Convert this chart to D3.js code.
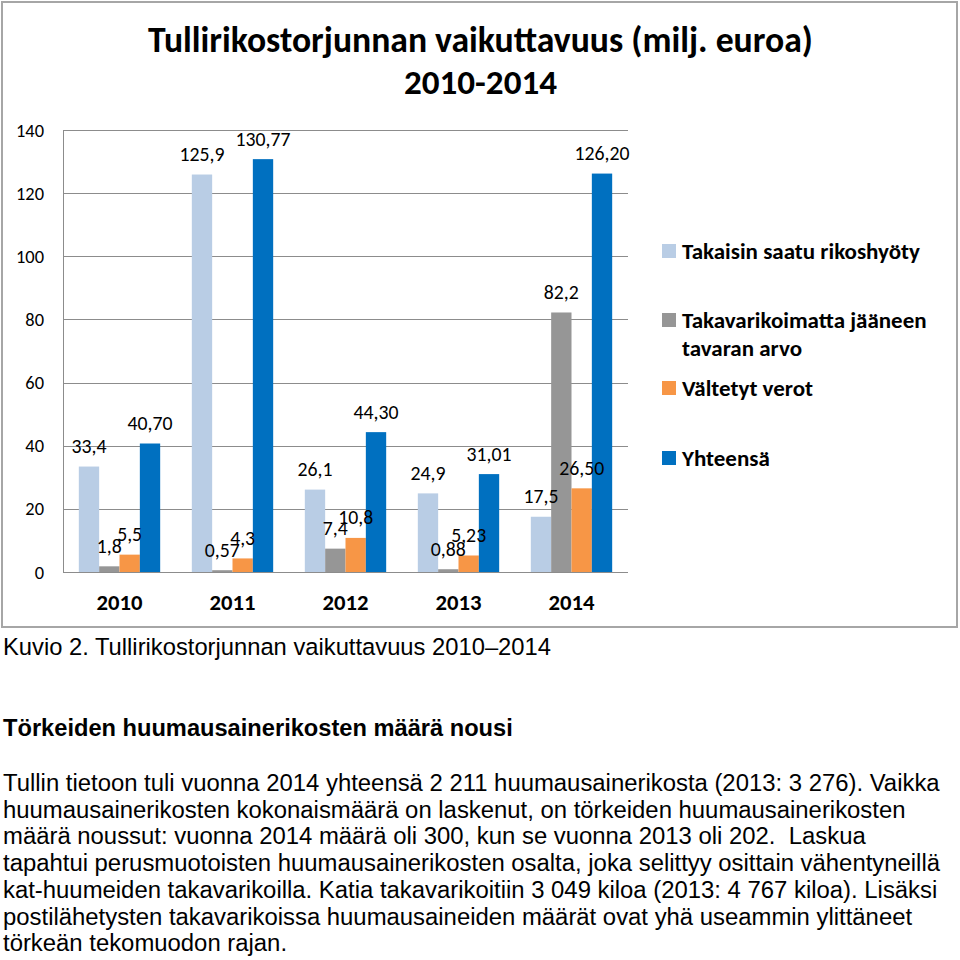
<!DOCTYPE html>
<html><head><meta charset="utf-8">
<script src="https://cdn.jsdelivr.net/npm/d3@7"></script>
<style>
html,body{margin:0;padding:0;background:#fff;}
svg{display:block;}
</style></head>
<body>
<script>
const years = ["2010","2011","2012","2013","2014"];
const seriesNames = ["Takaisin saatu rikoshyöty","Takavarikoimatta jääneen tavaran arvo","Vältetyt verot","Yhteensä"];
const takaisin = [33.4, 125.9, 26.1, 24.9, 17.5];
const takavarikoimatta = [1.8, 0.57, 7.4, 0.88, 82.2];
const vältetyt = [5.5, 4.3, 10.8, 5.23, 26.50];
const yhteensa = [40.70, 130.77, 44.30, 31.01, 126.20];
const labelTexts = [
  ["33,4","125,9","26,1","24,9","17,5"],
  ["1,8","0,57","7,4","0,88","82,2"],
  ["5,5","4,3","10,8","5,23","26,50"],
  ["40,70","130,77","44,30","31,01","126,20"]
];
const yTicks = [0,20,40,60,80,100,120,140];
const titleLines = ["Tullirikostorjunnan vaikuttavuus (milj. euroa)","2010-2014"];
const legendLines = [["Takaisin saatu rikoshyöty"],["Takavarikoimatta jääneen","tavaran arvo"],["Vältetyt verot"],["Yhteensä"]];
const caption = "Kuvio 2. Tullirikostorjunnan vaikuttavuus 2010\u20132014";
const heading = "Törkeiden huumausainerikosten määrä nousi";
const paragraph = [
  "Tullin tietoon tuli vuonna 2014 yhteensä 2 211 huumausainerikosta (2013: 3 276). Vaikka",
  "huumausainerikosten kokonaismäärä on laskenut, on törkeiden huumausainerikosten",
  "määrä noussut: vuonna 2014 määrä oli 300, kun se vuonna 2013 oli 202.  Laskua",
  "tapahtui perusmuotoisten huumausainerikosten osalta, joka selittyy osittain vähentyneillä",
  "kat-huumeiden takavarikoilla. Katia takavarikoitiin 3 049 kiloa (2013: 4 767 kiloa). Lisäksi",
  "postilähetysten takavarikoissa huumausaineiden määrät ovat yhä useammin ylittäneet",
  "törkeän tekomuodon rajan."
];
const colors = ["#b9cde5","#969696","#f79646","#0070c0"];
const series = [takaisin, takavarikoimatta, vältetyt, yhteensa];

const W = 960, H = 960;
const svg = d3.select("body").append("svg").attr("width", W).attr("height", H);
const calibri = "Carlito, Lato, 'Open Sans', sans-serif";
const arial = "Arial, 'Liberation Sans', sans-serif";

// measure a font size so that a sample text gets a given width
function sizeFor(text, family, weight, target) {
  const t = svg.append("text").attr("font-family", family).attr("font-weight", weight)
    .attr("font-size", 20).style("white-space", "pre").text(text);
  const w = t.node().getComputedTextLength();
  t.remove();
  return +(20 * target / w).toFixed(2);
}

const fsTitle1 = sizeFor(titleLines[0], calibri, "bold", 665);
const fsTitle2 = sizeFor(titleLines[1], calibri, "bold", 153);
const fsTick = sizeFor("140", calibri, "normal", 28);
const fsLabel = sizeFor("40,70", calibri, "normal", 45);
const fsX = sizeFor("2010", calibri, "bold", 46);
const fsLegend = sizeFor(legendLines[0][0], calibri, "bold", 238);
const fsCaption = sizeFor(caption, arial, "normal", 548);
const fsHeading = sizeFor(heading, arial, "bold", 510);
const fsPara = sizeFor(paragraph[0], arial, "normal", 937);

// frame
svg.append("rect").attr("x", 2).attr("y", 2).attr("width", 955).attr("height", 625)
  .attr("fill", "#fff").attr("stroke", "#a6a6a6").attr("stroke-width", 2);

// title
svg.append("text").attr("x", 480.5).attr("y", 52).attr("text-anchor", "middle")
  .attr("font-family", calibri).attr("font-weight", "bold").attr("font-size", fsTitle1).attr("fill", "#000").text(titleLines[0]);
svg.append("text").attr("x", 480.5).attr("y", 94).attr("text-anchor", "middle")
  .attr("font-family", calibri).attr("font-weight", "bold").attr("font-size", fsTitle2).attr("fill", "#000").text(titleLines[1]);

// scales
const plot = {left: 63, right: 628, top: 130, bottom: 572};
const x0 = d3.scaleBand().domain(years).range([plot.left, plot.right]).paddingInner(0.28).paddingOuter(0.14);
const x1 = d3.scaleBand().domain(d3.range(4)).range([0, x0.bandwidth()]).padding(0);
const y = d3.scaleLinear().domain([0, 140]).range([plot.bottom, plot.top]);

// gridlines
const g = svg.append("g");
g.selectAll("line.grid").data(yTicks).join("line").attr("class","grid")
  .attr("x1", plot.left).attr("x2", plot.right)
  .attr("y1", d => Math.round(y(d)) + 0.5).attr("y2", d => Math.round(y(d)) + 0.5)
  .attr("stroke", "#8c8c8c").attr("stroke-width", 1);
g.append("line").attr("x1", plot.left + 0.5).attr("x2", plot.left + 0.5)
  .attr("y1", y(140)).attr("y2", y(0)).attr("stroke", "#8c8c8c");

// y tick labels
g.selectAll("text.yt").data(yTicks).join("text").attr("class","yt")
  .attr("x", 44).attr("y", d => y(d) + fsTick * 0.36).attr("text-anchor", "end")
  .attr("font-family", calibri).attr("font-size", fsTick).attr("fill", "#000")
  .text(d => d);

// bars
const rows = years.map((yr, i) => ({yr, vals: series.map(s => s[i]), labels: labelTexts.map(l => l[i])}));
const groups = svg.append("g").selectAll("g").data(rows).join("g")
  .attr("transform", d => `translate(${x0(d.yr)},0)`);
groups.selectAll("rect").data(d => d.vals.map((v, k) => ({v, k}))).join("rect")
  .attr("x", d => x1(d.k)).attr("width", x1.bandwidth())
  .attr("y", d => y(d.v)).attr("height", d => y(0) - y(d.v))
  .attr("fill", d => colors[d.k]);
groups.selectAll("text").data(d => d.vals.map((v, k) => ({v, k, t: d.labels[k]}))).join("text")
  .attr("x", d => x1(d.k) + x1.bandwidth() / 2).attr("y", d => y(d.v) - 13.5)
  .attr("text-anchor", "middle").attr("font-family", calibri).attr("font-size", fsLabel).attr("fill", "#000")
  .text(d => d.t);

// x labels
svg.append("g").selectAll("text").data(years).join("text")
  .attr("x", d => x0(d) + x0.bandwidth() / 2).attr("y", 610)
  .attr("text-anchor", "middle").attr("font-family", calibri).attr("font-weight", "bold")
  .attr("font-size", fsX).attr("fill", "#000").text(d => d);

// legend
const legendY = [251, 320, 388, 458];
const lg = svg.append("g");
legendLines.forEach((lines, k) => {
  lg.append("rect").attr("x", 662).attr("y", legendY[k] - 7).attr("width", 14).attr("height", 14).attr("fill", colors[k]);
  lines.forEach((ln, j) => {
    lg.append("text").attr("x", 682).attr("y", legendY[k] + 8 + j * 28)
      .attr("font-family", calibri).attr("font-weight", "bold").attr("font-size", fsLegend).attr("fill", "#000").text(ln);
  });
});

// text below
svg.append("text").attr("x", 3).attr("y", 655).attr("font-family", arial).attr("font-size", fsCaption).attr("fill", "#000").text(caption);
svg.append("text").attr("x", 3).attr("y", 736).attr("font-family", arial).attr("font-weight", "bold").attr("font-size", fsHeading).attr("fill", "#000").text(heading);
svg.append("g").selectAll("text").data(paragraph).join("text")
  .attr("x", 3).attr("y", (d, i) => 791 + i * 26.7)
  .attr("font-family", arial).attr("font-size", fsPara).attr("fill", "#000")
  .style("white-space", "pre").text(d => d);
</script>
</body></html>
